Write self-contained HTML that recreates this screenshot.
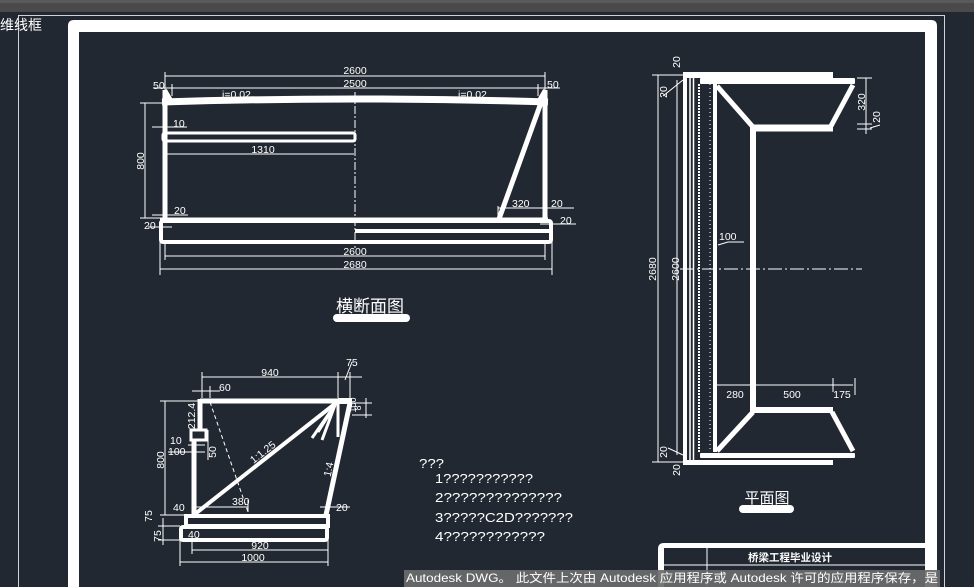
<!DOCTYPE html>
<html><head><meta charset="utf-8"><style>
html,body{margin:0;padding:0;background:#222831;}
svg{display:block}
text{font-family:"Liberation Sans","Noto Sans CJK SC",sans-serif;fill:#fff}
</style></head><body>
<svg width="974" height="587" viewBox="0 0 974 587" xmlns="http://www.w3.org/2000/svg">
<rect width="974" height="587" fill="#222831"/>
<rect x="0" y="0" width="974" height="12" fill="#4a4a4a"/>
<rect x="0" y="0" width="974" height="3" fill="#5a5a5a"/>
<line x1="18.5" y1="15.5" x2="944.5" y2="15.5" stroke="#cfd3d8" stroke-width="1"/>
<line x1="18.5" y1="15" x2="18.5" y2="587" stroke="#cfd3d8" stroke-width="1"/>
<line x1="944.5" y1="15" x2="944.5" y2="587" stroke="#cfd3d8" stroke-width="1"/>
<text x="0" y="30" font-size="14">维线框</text>
<!-- frame -->
<path d="M68 587 V26 Q68 20 74 20 H931 Q937 20 937 26 V587 H925 V32 H79 V587 Z" fill="#fff"/>

<g stroke="#fff" fill="none">
<!-- ===== cross section ===== -->
<g stroke-width="1">
<line x1="165" y1="76" x2="545" y2="76"/><line x1="165" y1="72" x2="165" y2="92"/><line x1="545" y1="72" x2="545" y2="92"/>
<line x1="153" y1="88" x2="560" y2="88"/><line x1="172" y1="84" x2="172" y2="96"/><line x1="538" y1="84" x2="538" y2="96"/>
<line x1="145" y1="103" x2="145" y2="218"/><line x1="140" y1="103" x2="165" y2="103"/><line x1="140" y1="218" x2="165" y2="218"/>
<line x1="152" y1="127" x2="187" y2="127"/>
<line x1="166" y1="154" x2="354" y2="154"/>
<line x1="160" y1="242" x2="160" y2="275"/><line x1="552" y1="242" x2="552" y2="275"/>
<line x1="165" y1="240" x2="165" y2="260"/><line x1="545" y1="240" x2="545" y2="260"/>
<line x1="165" y1="256" x2="545" y2="256"/><line x1="160" y1="269" x2="552" y2="269"/>
<line x1="152" y1="215" x2="188" y2="215"/><line x1="148" y1="227" x2="172" y2="227"/>
<line x1="498" y1="206" x2="498" y2="220"/><line x1="498" y1="208" x2="574" y2="208"/><line x1="540" y1="224" x2="576" y2="224"/>
</g>
<line x1="355" y1="92" x2="355" y2="248" stroke-width="1" stroke-dasharray="8,2,2,2"/>
<path d="M162 102 Q355 96 548 102" stroke-width="7"/>
<path d="M165 90 L172 102 M545 90 L538 102" stroke-width="4"/>
<line x1="165" y1="90" x2="165" y2="221" stroke-width="5"/>
<line x1="545" y1="90" x2="545" y2="221" stroke-width="5"/>
<line x1="542" y1="100" x2="499" y2="219" stroke-width="5"/>
<rect x="163" y="133" width="192" height="8" rx="2" stroke-width="3"/>
<line x1="160" y1="220" x2="548" y2="220" stroke-width="5"/>
<rect x="161" y="221" width="390" height="21" rx="2" stroke-width="4"/>
<line x1="355" y1="231" x2="550" y2="231" stroke-width="4"/>

<!-- ===== elevation ===== -->
<g stroke-width="1">
<line x1="202" y1="377" x2="338" y2="377"/><line x1="202" y1="372" x2="202" y2="398"/><line x1="338" y1="372" x2="338" y2="398"/><line x1="350" y1="372" x2="350" y2="398"/>
<line x1="338" y1="377" x2="362" y2="377"/><line x1="345" y1="380" x2="352" y2="362"/>
<line x1="192" y1="391" x2="220" y2="391"/><line x1="210" y1="386" x2="210" y2="398"/>
<line x1="165" y1="401" x2="165" y2="515"/><line x1="160" y1="401" x2="200" y2="401"/><line x1="160" y1="515" x2="190" y2="515"/>
<line x1="188" y1="445" x2="205" y2="445"/><line x1="168" y1="452" x2="205" y2="452"/>
<line x1="208" y1="430" x2="208" y2="460"/>
<line x1="195" y1="507" x2="248" y2="507"/><line x1="248" y1="500" x2="248" y2="512"/>
<line x1="320" y1="507" x2="350" y2="507"/>
<line x1="352" y1="403" x2="372" y2="403"/><line x1="352" y1="415" x2="372" y2="415"/><line x1="366" y1="398" x2="366" y2="418"/>
<line x1="163" y1="518" x2="163" y2="545"/><line x1="158" y1="526" x2="180" y2="526"/><line x1="158" y1="540" x2="180" y2="540"/>
<line x1="192" y1="540" x2="192" y2="554"/><line x1="328" y1="540" x2="328" y2="566"/><line x1="180" y1="540" x2="180" y2="566"/>
<line x1="192" y1="550" x2="328" y2="550"/><line x1="180" y1="562" x2="328" y2="562"/>
</g>
<line x1="210" y1="402" x2="248" y2="512" stroke-width="1" stroke-dasharray="4,3"/>
<line x1="200" y1="401" x2="350" y2="401" stroke-width="5"/>
<rect x="338" y="398" width="14" height="6" fill="#fff" stroke="none"/>
<line x1="200" y1="399" x2="200" y2="430" stroke-width="5"/>
<rect x="191" y="430" width="15" height="10" stroke-width="3"/>
<line x1="194" y1="440" x2="194" y2="516" stroke-width="5"/>
<line x1="195" y1="514" x2="336" y2="403" stroke-width="4"/>
<line x1="350" y1="403" x2="326" y2="515" stroke-width="5"/>
<line x1="338" y1="403" x2="338" y2="437" stroke-width="3"/>
<path d="M335 405 L312 438 M335 405 L322 440 M335 405 L318 432" stroke-width="3"/>
<rect x="186" y="516" width="142" height="10" stroke-width="4"/>
<rect x="181" y="527" width="146" height="13" rx="2" stroke-width="4"/>

<!-- ===== plan ===== -->
<g stroke-width="1">
<line x1="658" y1="75" x2="658" y2="462"/><line x1="652" y1="75" x2="683" y2="75"/><line x1="652" y1="462" x2="683" y2="462"/>
<line x1="677" y1="80" x2="677" y2="455"/>
<line x1="663" y1="96" x2="683" y2="80"/><line x1="668" y1="448" x2="683" y2="455"/>
<line x1="857" y1="78" x2="872" y2="78"/><line x1="866" y1="78" x2="866" y2="134"/><line x1="857" y1="124" x2="872" y2="124"/><line x1="857" y1="129" x2="872" y2="129"/>
<line x1="870" y1="128" x2="880" y2="125"/>
<line x1="716" y1="385" x2="853" y2="385"/><line x1="833" y1="378" x2="833" y2="392"/><line x1="855" y1="378" x2="855" y2="395"/>
<line x1="718" y1="245" x2="728" y2="242"/><line x1="728" y1="242" x2="744" y2="242"/>
</g>
<line x1="680" y1="269" x2="862" y2="269" stroke-width="1" stroke-dasharray="14,3,2,3"/>
<rect x="683" y="72" width="150" height="6" fill="#fff" stroke="none"/>
<rect x="700" y="78" width="155" height="6" rx="1" fill="#fff" stroke="none"/>
<rect x="683" y="460" width="150" height="5" fill="#fff" stroke="none"/>
<rect x="700" y="453" width="155" height="5" rx="1" fill="#fff" stroke="none"/>
<rect x="683" y="72" width="4" height="393" fill="#fff" stroke="none"/>
<line x1="690" y1="78" x2="690" y2="460" stroke-width="1.5"/>
<line x1="693.5" y1="78" x2="693.5" y2="460" stroke-width="1.5"/>
<line x1="699" y1="84" x2="699" y2="452" stroke-width="2" stroke-dasharray="2,1"/>
<line x1="710" y1="84" x2="710" y2="452" stroke-width="1" stroke-dasharray="1,3"/>
<line x1="715" y1="84" x2="715" y2="452" stroke-width="4"/>
<line x1="717" y1="86" x2="753" y2="127" stroke-width="5"/>
<line x1="753" y1="128" x2="833" y2="128" stroke-width="7"/>
<line x1="853" y1="85" x2="831" y2="126" stroke-width="5"/>
<line x1="753" y1="125" x2="753" y2="413" stroke-width="6"/>
<line x1="753" y1="410" x2="833" y2="410" stroke-width="6"/>
<line x1="753" y1="412" x2="717" y2="451" stroke-width="5"/>
<line x1="832" y1="412" x2="853" y2="451" stroke-width="5"/>

<!-- title block -->
<path d="M658 587 V549 Q658 543 664 543 H928 V548 H664 V587 Z" fill="#fff" stroke="none"/>
<line x1="664" y1="565" x2="925" y2="565" stroke-width="1"/>
<line x1="707" y1="548" x2="707" y2="587" stroke-width="1"/>
</g>

<!-- labels -->
<g font-size="10.5">
<text x="355" y="74" text-anchor="middle">2600</text>
<text x="355" y="87" text-anchor="middle">2500</text>
<text x="153" y="89">50</text><text x="547" y="88">50</text>
<text x="222" y="98">i=0.02</text><text x="458" y="98">i=0.02</text>
<text x="173" y="127">10</text>
<text x="263" y="153" text-anchor="middle">1310</text>
<text x="144" y="161" text-anchor="middle" transform="rotate(-90 144 161)">800</text>
<text x="174" y="214">20</text><text x="144" y="229">20</text>
<text x="512" y="207">320</text><text x="551" y="207">20</text><text x="560" y="224">20</text>
<text x="355" y="255" text-anchor="middle">2600</text>
<text x="355" y="268" text-anchor="middle">2680</text>

<text x="270" y="376" text-anchor="middle">940</text>
<text x="346" y="366">75</text>
<text x="219" y="391">60</text>
<text x="195" y="416" text-anchor="middle" transform="rotate(-90 195 416)">212.4</text>
<text x="361" y="408" text-anchor="middle" transform="rotate(-90 361 408)" font-size="9">8</text>
<text x="361" y="400" text-anchor="middle" transform="rotate(-90 361 405)" font-size="9">100</text>
<text x="170" y="444">10</text><text x="168" y="455">100</text>
<text x="216" y="452" text-anchor="middle" transform="rotate(-90 216 452)">50</text>
<text x="164" y="460" text-anchor="middle" transform="rotate(-90 164 460)">800</text>
<text x="265" y="455" text-anchor="middle" transform="rotate(-38 265 455)">1:1.25</text>
<text x="332" y="470" text-anchor="middle" transform="rotate(-78 332 470)">1:4</text>
<text x="173" y="511">40</text><text x="232" y="505">380</text><text x="336" y="511">20</text>
<text x="152" y="516" text-anchor="middle" transform="rotate(-90 152 516)">75</text>
<text x="161" y="536" text-anchor="middle" transform="rotate(-90 161 536)">75</text>
<text x="188" y="538">40</text>
<text x="260" y="549" text-anchor="middle">920</text>
<text x="253" y="561" text-anchor="middle">1000</text>

<text x="656" y="269" text-anchor="middle" transform="rotate(-90 656 269)">2680</text>
<text x="679" y="269" text-anchor="middle" transform="rotate(-90 679 269)">2600</text>
<text x="680" y="62" text-anchor="middle" transform="rotate(-90 680 62)">20</text>
<text x="667" y="92" text-anchor="middle" transform="rotate(-90 667 92)">20</text>
<text x="667" y="452" text-anchor="middle" transform="rotate(-90 667 452)">20</text>
<text x="680" y="470" text-anchor="middle" transform="rotate(-90 680 470)">20</text>
<text x="865" y="102" text-anchor="middle" transform="rotate(-90 865 102)">320</text>
<text x="880" y="117" text-anchor="middle" transform="rotate(-90 880 117)">20</text>
<text x="719" y="240">100</text>
<text x="735" y="398" text-anchor="middle">280</text>
<text x="792" y="398" text-anchor="middle">500</text>
<text x="842" y="398" text-anchor="middle">175</text>
</g>
<text x="370" y="312" font-size="17" text-anchor="middle">横断面图</text>
<rect x="333" y="314" width="77" height="8" rx="4" fill="#fff"/>
<text x="767" y="503" font-size="15" text-anchor="middle">平面图</text>
<rect x="739" y="505" width="55" height="8" rx="4" fill="#fff"/>

<g font-size="13">
<text x="419" y="468" textLength="25" lengthAdjust="spacingAndGlyphs">???</text>
<text x="435" y="483" textLength="98" lengthAdjust="spacingAndGlyphs">1???????????</text>
<text x="435" y="502" textLength="127" lengthAdjust="spacingAndGlyphs">2??????????????</text>
<text x="435" y="522" textLength="138" lengthAdjust="spacingAndGlyphs">3?????C2D???????</text>
<text x="435" y="541" textLength="110" lengthAdjust="spacingAndGlyphs">4????????????</text>
</g>
<text x="790" y="561" font-size="10.5" font-weight="bold" text-anchor="middle">桥梁工程毕业设计</text>

<rect x="404" y="570" width="536" height="17" fill="#6b6b6b" opacity="0.92"/>
<text x="406" y="582" font-size="12" font-family="Liberation Mono, Noto Sans CJK SC, monospace" fill="#eee" textLength="532" lengthAdjust="spacingAndGlyphs">Autodesk DWG。  此文件上次由 Autodesk 应用程序或 Autodesk 许可的应用程序保存，是</text>
</svg>
</body></html>
